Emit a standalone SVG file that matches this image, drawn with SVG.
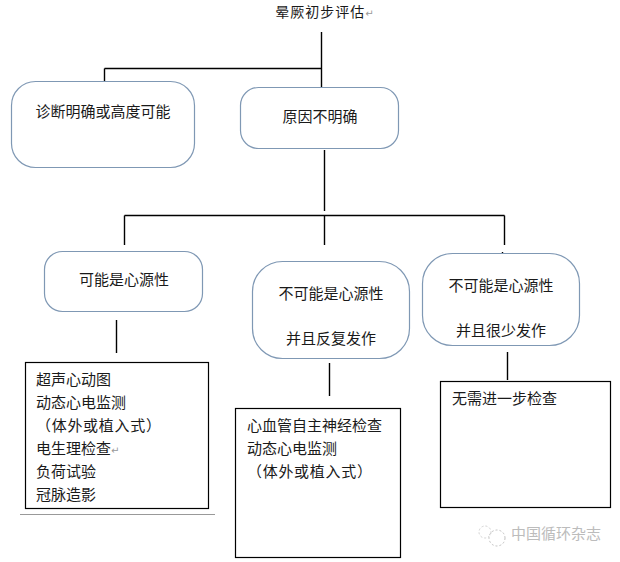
<svg xmlns="http://www.w3.org/2000/svg" width="620" height="562" viewBox="0 0 620 562">
<style>
.t{font-family:"Noto Sans CJK SC","Liberation Sans",sans-serif;font-size:15px;fill:#1a1a1a}
.m{text-anchor:middle}
.n{fill:#fff;stroke:#7f98b4;stroke-width:1.2}
.b{fill:#fff;stroke:#000;stroke-width:1.2}
.c{fill:none;stroke:#000;stroke-width:1.4}
.r{font-family:"DejaVu Sans",sans-serif;font-size:10px;fill:#999}
.w{letter-spacing:.7px}
</style>
<rect width="620" height="562" fill="#fff"/>
<g id="connectors">
<path class="c" d="M321.500 32V87M104.500 68.500H321.500M104.500 68.500V81"/>
<path class="c" d="M324.500 150V211M124.500 215.500H504.500M124.500 215.500V245M324.500 215.500V245M504.500 215.500V245"/>
<path class="c" d="M116.500 320V353M329.500 363V396M507.500 352V380"/>
<path class="c" d="M324.500 261V264M502.500 252V255"/>
</g>
<g id="title"><text class="t m" x="325" y="16.500" style="font-size:14px;letter-spacing:1px">晕厥初步评估<tspan class="r">↵</tspan></text></g>
<g id="node-diagnosis"><rect class="n" x="11.500" y="81.500" width="183" height="86" rx="24"/><text class="t m" x="103" y="117">诊断明确或高度可能</text></g>
<g id="node-unknown"><rect class="n" x="240.500" y="87.500" width="158" height="61" rx="18"/><text class="t m" x="320" y="122">原因不明确</text></g>
<g id="node-cardiac"><rect class="n" x="44.500" y="251.500" width="158" height="60" rx="18"/><text class="t m" x="124" y="285">可能是心源性</text></g>
<g id="node-noncardiac-frequent"><rect class="n" x="252.500" y="261.500" width="157" height="97" rx="30"/><text class="t m" x="331" y="299">不可能是心源性</text><text class="t m" x="331" y="344">并且反复发作</text></g>
<g id="node-noncardiac-rare"><rect class="n" x="422.500" y="253.500" width="157" height="92" rx="30"/><text class="t m" x="501" y="291">不可能是心源性</text><text class="t m" x="501" y="336">并且很少发作</text></g>
<g id="box-cardiac-tests"><rect class="b" x="25.500" y="362.500" width="183" height="146"/>
<text class="t" x="36" y="385">超声心动图</text>
<text class="t" x="36" y="408">动态心电监测</text>
<text class="t w" x="36" y="431">（体外或植入式）</text>
<text class="t" x="36" y="454">电生理检查<tspan class="r">↵</tspan></text>
<text class="t" x="36" y="477">负荷试验</text>
<text class="t" x="36" y="500">冠脉造影</text></g>
<path d="M20 514.500H215" stroke="#999" stroke-width="1" fill="none"/>
<g id="box-autonomic"><rect class="b" x="235.500" y="408.500" width="165" height="149"/>
<text class="t" x="247" y="431">心血管自主神经检查</text>
<text class="t" x="247" y="454">动态心电监测</text>
<text class="t w" x="247" y="477">（体外或植入式）</text></g>
<g id="box-none"><rect class="b" x="440.500" y="381.500" width="170" height="126"/>
<text class="t" x="452" y="404">无需进一步检查</text></g>
<g id="watermark" opacity="0.9">
<circle cx="497" cy="538" r="8" fill="none" stroke="#bbb" stroke-width="1" stroke-dasharray="2 2"/>
<circle cx="485" cy="532" r="6" fill="none" stroke="#ccc" stroke-width="1" stroke-dasharray="2 2"/>
<text x="511" y="539" font-family="Noto Sans CJK SC,sans-serif" font-size="15" fill="#b5b5b5">中国循环杂志</text></g>
</svg>
